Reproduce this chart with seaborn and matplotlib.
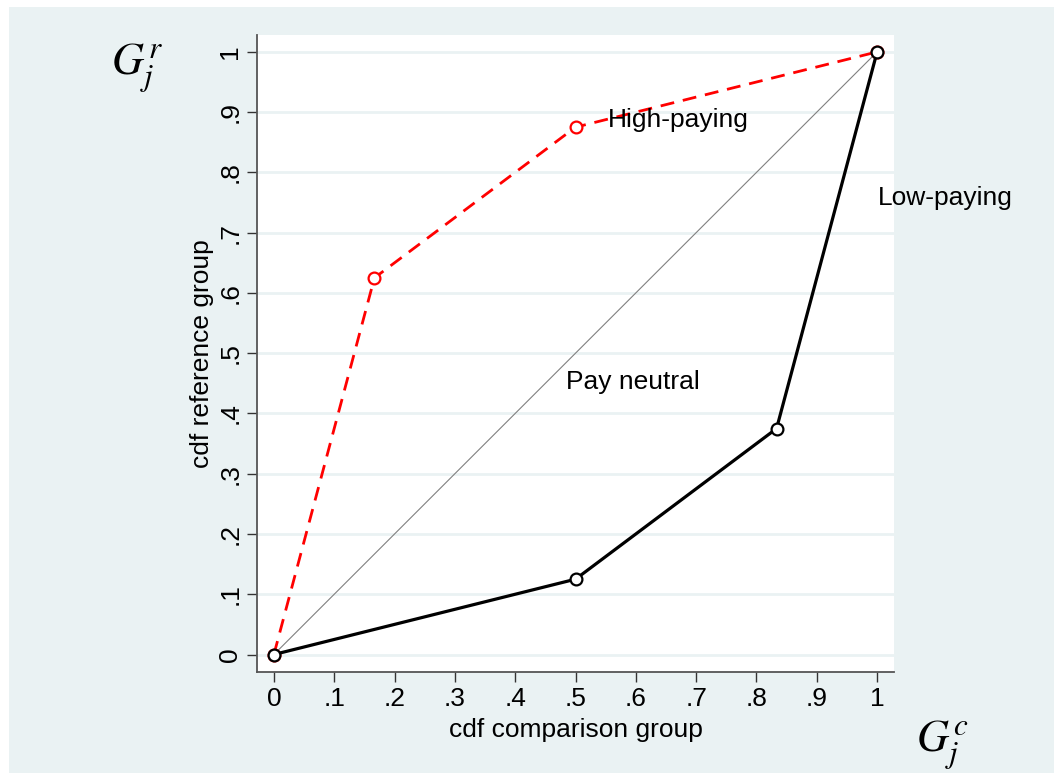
import numpy as np
import pandas as pd
import matplotlib
matplotlib.use("Agg")
import matplotlib.pyplot as plt
import seaborn as sns
from matplotlib.patches import Rectangle

# Data
high_x = [0, 1/6, 0.5, 1]
high_y = [0, 0.625, 0.875, 1]
low_x = [0, 0.5, 5/6, 1]
low_y = [0, 0.125, 0.375, 1]
diag = [0, 1]
ticks = [0, .1, .2, .3, .4, .5, .6, .7, .8, .9, 1]
tick_labels = ["0", ".1", ".2", ".3", ".4", ".5", ".6", ".7", ".8", ".9", "1"]

sns.set_style("white")
plt.rcParams['font.family'] = ['Liberation Sans', 'DejaVu Sans']
plt.rcParams['mathtext.fontset'] = 'stix'
plt.rcParams['text.color'] = 'black'
plt.rcParams['axes.labelcolor'] = 'black'

FS = 19
bg = "#EAF2F3"
W, H = 1054, 773
fig = plt.figure(figsize=(W/100, H/100), dpi=100, facecolor="white")
bgrect = Rectangle((9/W, 0), 1 - 9/W, 1 - 7/H, transform=fig.transFigure,
                   facecolor=bg, edgecolor="none", zorder=-10)
fig.patches.append(bgrect)

ax = fig.add_axes([257/W, 1 - 672/H, (894-257)/W, (672-35)/H])
ax.set_zorder(1)
ax.set_facecolor("white")

for t in ticks:
    ax.axhline(t, color=bg, lw=2, zorder=1)

sns.lineplot(x=diag, y=diag, ax=ax, color="#808080", lw=0.8, zorder=2)
hdf = pd.DataFrame({"x": high_x, "y": high_y})
ldf = pd.DataFrame({"x": low_x, "y": low_y})
sns.lineplot(data=hdf, x="x", y="y", ax=ax, color="red", lw=2.0, linestyle=(0, (5, 3.2)),
             marker="o", markersize=8.5, markerfacecolor="white", markeredgecolor="red",
             markeredgewidth=1.6, sort=False, zorder=3)
sns.lineplot(data=ldf, x="x", y="y", ax=ax, color="black", lw=2.3,
             marker="o", markersize=8.5, markerfacecolor="white", markeredgecolor="black",
             markeredgewidth=1.6, sort=False, zorder=4)

ax.set_xlim(-0.028, 1.028)
ax.set_ylim(-0.029, 1.028)
ax.set_xticks(ticks)
ax.set_xticklabels(tick_labels)
ax.set_yticks(ticks)
ax.set_yticklabels(tick_labels, rotation=90, va="center")
ax.tick_params(axis="both", direction="out", length=7.5, width=1, color="#333333",
               labelsize=FS, labelcolor="black", pad=3)
ax.tick_params(axis="y", left=True)
ax.tick_params(axis="x", bottom=True)

for s in ["top", "right"]:
    ax.spines[s].set_visible(False)
for s in ["left", "bottom"]:
    ax.spines[s].set_color("#555555")
    ax.spines[s].set_linewidth(1.3)

ax.set_xlabel("cdf comparison group", fontsize=FS, labelpad=5)
ax.set_ylabel("cdf reference group", fontsize=FS, labelpad=3)

ax.text(0.554, 0.887, "High-paying", fontsize=FS, va="center", ha="left", zorder=5)
ax.text(1.002, 0.757, "Low-paying", fontsize=FS, va="center", ha="left", clip_on=False, zorder=5)
ax.text(0.484, 0.453, "Pay neutral", fontsize=FS, va="center", ha="left", zorder=5)

fig.text(137/W, 1 - 68/H, r"$G_j^r$", fontsize=32, ha="center", va="center")
fig.text(942/W, 1 - 745/H, r"$G_j^c$", fontsize=32, ha="center", va="center")

fig.savefig("out.png", dpi=100, facecolor="white")
